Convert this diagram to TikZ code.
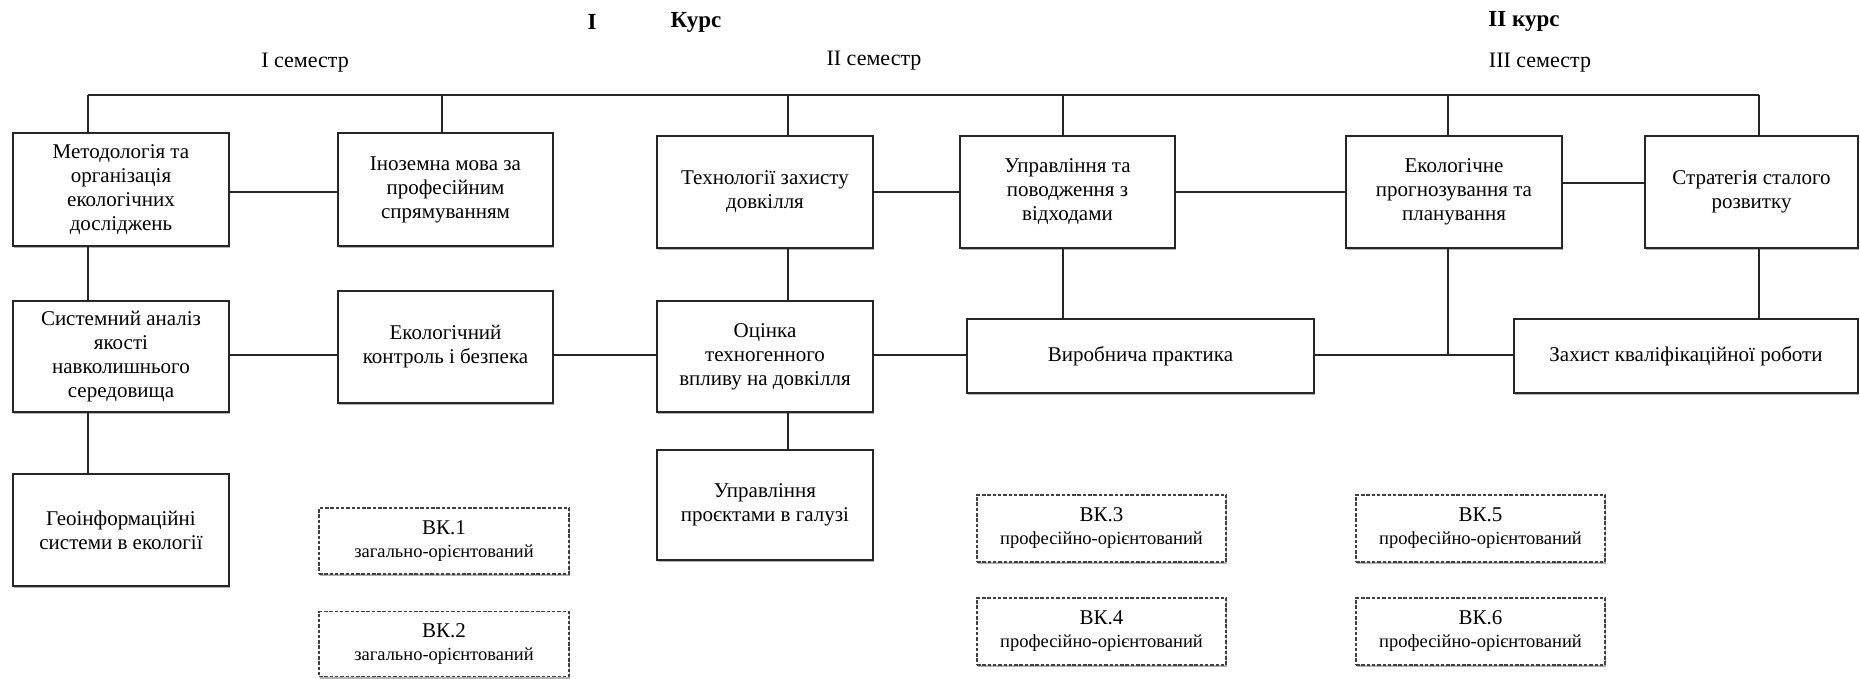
\documentclass[tikz,border=0pt]{standalone}
\usepackage{fontspec}
\setmainfont{Liberation Serif}
\usetikzlibrary{shadows}
\begin{document}
\begin{tikzpicture}[x=1pt,y=-1pt,
  shd/.style={drop shadow={shadow xshift=1pt, shadow yshift=-2.2pt, fill=black!55, opacity=0.55}},
  box/.style={draw=black!85, line width=1.7pt, fill=white, align=center, inner sep=2pt,
              font=\fontsize{21}{24}\selectfont, shd},
  vkbox/.style={draw=black!75, line width=1.3pt, dash pattern=on 3.5pt off 1.8pt, fill=white,
              align=center, inner sep=2pt, font=\fontsize{18.5}{23}\selectfont, shd},
  conn/.style={draw=black!85, line width=1.5pt},
  sem/.style={font=\fontsize{22}{24}\selectfont, inner sep=0pt},
  head/.style={font=\fontsize{23}{26}\selectfont\bfseries, inner sep=0pt}]
\useasboundingbox (0,0) rectangle (1860,678);
\fill[white] (0,0) rectangle (1860,678);

% headings
\node[head] (hI) at (592,22) {I};
\node[head] (hK) at (696,22) {Курс};
\node[head] (hII) at (1524,21) {II курс};
\node[sem] (s1) at (305,63) {I семестр};
\node[sem] (s2) at (874,61) {II семестр};
\node[sem] (s3) at (1540,63) {III семестр};

% stem coordinates on top line
\coordinate (t1) at (88,95);
\coordinate (t2) at (442,95);
\coordinate (t3) at (788,95);
\coordinate (t4) at (1063,95);
\coordinate (t5) at (1448,95);
\coordinate (t6) at (1759,95);
\coordinate (r1) at (0,192);
\coordinate (r2) at (0,355);

% row 1
\node[box, minimum width=216, minimum height=113] (meth) at (121,189.5)
  {Методологія та\\організація\\екологічних\\досліджень};
\node[box, minimum width=215, minimum height=113] (inoz) at (445.5,189.5)
  {Іноземна мова за\\професійним\\спрямуванням};
\node[box, minimum width=216, minimum height=112] (tech) at (765,192)
  {Технології захисту\\довкілля};
\node[box, minimum width=215, minimum height=112] (upr) at (1067.5,192)
  {Управління та\\поводження з\\відходами};
\node[box, minimum width=216, minimum height=112] (prog) at (1454,192)
  {Екологічне\\прогнозування та\\планування};
\node[box, minimum width=213, minimum height=112] (strat) at (1751.5,192)
  {Стратегія сталого\\розвитку};

% row 2
\node[box, minimum width=216, minimum height=111] (sys) at (121,356.5)
  {Системний аналіз\\якості\\навколишнього\\середовища};
\node[box, minimum width=215, minimum height=112] (ekon) at (445.5,347)
  {Екологічний\\контроль і безпека};
\node[box, minimum width=216, minimum height=111] (ots) at (765,356.5)
  {Оцінка\\техногенного\\впливу на довкілля};
\node[box, minimum width=347, minimum height=74] (vyr) at (1140.5,356)
  {Виробнича практика};
\node[box, minimum width=344, minimum height=74] (zah) at (1686,356)
  {Захист кваліфікаційної роботи};

% row 3
\node[box, minimum width=216, minimum height=112] (geo) at (121,530)
  {Геоінформаційні\\системи в екології};
\node[box, minimum width=216, minimum height=110] (uprpr) at (765,505)
  {Управління\\проєктами в галузі};

% elective boxes
\node[vkbox, minimum width=250, minimum height=66] (vk1) at (444,541)
  {{\fontsize{21}{23}\selectfont ВК.1}\\загально-орієнтований};
\node[vkbox, minimum width=250, minimum height=65] (vk2) at (444,644)
  {{\fontsize{21}{23}\selectfont ВК.2}\\загально-орієнтований};
\node[vkbox, minimum width=249, minimum height=67] (vk3) at (1101.5,528.5)
  {{\fontsize{21}{23}\selectfont ВК.3}\\професійно-орієнтований};
\node[vkbox, minimum width=249, minimum height=67] (vk4) at (1101.5,631.5)
  {{\fontsize{21}{23}\selectfont ВК.4}\\професійно-орієнтований};
\node[vkbox, minimum width=249, minimum height=67] (vk5) at (1480.5,528.5)
  {{\fontsize{21}{23}\selectfont ВК.5}\\професійно-орієнтований};
\node[vkbox, minimum width=249, minimum height=67] (vk6) at (1480.5,631.5)
  {{\fontsize{21}{23}\selectfont ВК.6}\\професійно-орієнтований};

% connectors
\draw[conn] (t1) -- (t6);
\draw[conn] (t1) -- (t1 |- meth.north);
\draw[conn] (t2) -- (t2 |- inoz.north);
\draw[conn] (t3) -- (t3 |- tech.north);
\draw[conn] (t4) -- (t4 |- upr.north);
\draw[conn] (t5) -- (t5 |- prog.north);
\draw[conn] (t6) -- (t6 |- strat.north);

\draw[conn] (meth.east |- r1) -- (inoz.west |- r1);
\draw[conn] (tech.east |- r1) -- (upr.west |- r1);
\draw[conn] (upr.east |- r1) -- (prog.west |- r1);
\draw[conn] ([yshift=9pt]prog.east |- r1) -- ([yshift=9pt]strat.west |- r1);

\draw[conn] (t1 |- meth.south) -- (t1 |- sys.north);
\draw[conn] (t1 |- sys.south) -- (t1 |- geo.north);
\draw[conn] (t3 |- tech.south) -- (t3 |- ots.north);
\draw[conn] (t3 |- ots.south) -- (t3 |- uprpr.north);
\draw[conn] (t4 |- upr.south) -- (t4 |- vyr.north);
\draw[conn] (t5 |- prog.south) -- (t5 |- r2);
\draw[conn] (t6 |- strat.south) -- (t6 |- zah.north);

\draw[conn] (sys.east |- r2) -- (ekon.west |- r2);
\draw[conn] (ekon.east |- r2) -- (ots.west |- r2);
\draw[conn] (ots.east |- r2) -- (vyr.west |- r2);
\draw[conn] (vyr.east |- r2) -- (zah.west |- r2);
\end{tikzpicture}
\end{document}
